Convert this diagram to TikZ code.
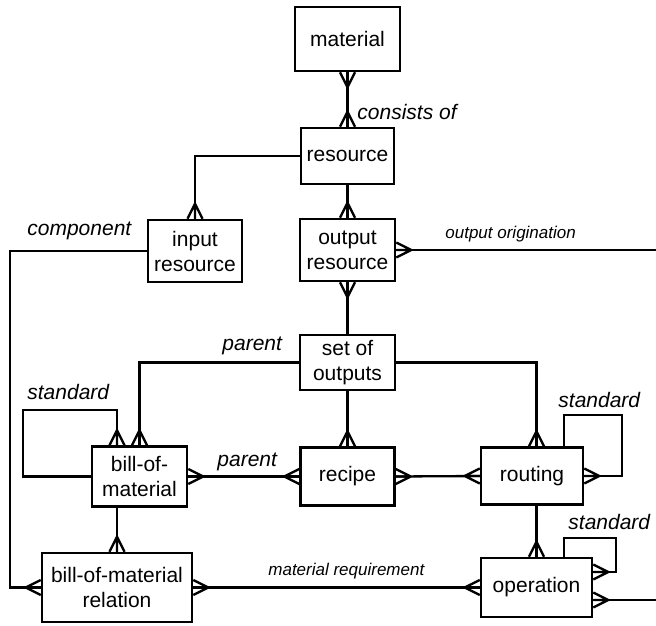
\documentclass[tikz,border=0pt]{standalone}
\usepackage{fontspec}
\setmainfont{Liberation Sans}
\begin{document}
\begin{tikzpicture}[x=0.5pt,y=-0.5pt,
  entity/.style={draw, line width=1.25pt, align=center, inner sep=0pt, font=\fontsize{10.5}{12.5}\selectfont},
  dims/.style 2 args={minimum width=#1, minimum height=#2},
  role/.style={inner sep=0pt, anchor=west, font=\fontsize{10.5}{12.5}\selectfont\itshape},
  small role/.style={role, font=\fontsize{8.5}{10}\selectfont\itshape},
  rel/.style={line width=1.15pt},
  crowfoot/.pic={\draw [line width=1.15pt] (-7.5,0) -- (0,15) (0,0) -- (0,15) (7.5,0) -- (0,15);}
]
\useasboundingbox (0,0) rectangle (656,625);

% Entities
\node [entity, dims={52.5pt}{32pt}] (material) at (347.5,39) {material};
\node [entity, dims={46.5pt}{28pt}] (resource) at (347.5,156) {resource};
\node [entity, dims={47pt}{31pt}] (input) at (195,251) {input\\resource};
\node [entity, dims={47.5pt}{31pt}] (output) at (347.5,250) {output\\resource};
\node [entity, dims={47.5pt}{27.5pt}] (outputs) at (347.5,362.5) {set of\\outputs};
\node [entity, dims={47.5pt}{30pt}] (bom) at (139.5,476.5) {bill-of-\\material};
\node [entity, dims={47pt}{29pt}] (recipe) at (347.5,476.5) {recipe};
\node [entity, dims={51pt}{28.5pt}] (routing) at (532,476) {routing};
\node [entity, dims={75pt}{34.5pt}] (bomr) at (117,587.5) {bill-of-material\\relation};
\node [entity, dims={55.5pt}{29.5pt}] (operation) at (536.5,587.5) {operation};

% Free ends at the right border and the corners of the loops
\coordinate (origination end) at (656,250);
\coordinate (operation end) at (656,600);
\coordinate (component bend) at (10,400);
\coordinate (bom loop) at (23,410);
\coordinate (routing loop) at (622,415);
\coordinate (operation loop) at (616,538);

% material consists of resources
\draw [rel] (material.south) -- (resource.north);
\pic at (material.south) {crowfoot};
\pic [rotate=180] at (resource.north) {crowfoot};
\node [role] (consists) at (357,112) {consists of};

% input and output resources
\draw [rel] (resource.west) -| (input.north);
\pic [rotate=180] at (input.north) {crowfoot};
\draw [rel] (resource.south) -- (output.north);
\pic [rotate=180] at (output.north) {crowfoot};
\draw [rel] (output.south) -- (outputs.north);
\pic at (output.south) {crowfoot};
\draw [rel] (output.east) -- (origination end);
\pic [rotate=90] at (output.east) {crowfoot};
\node [small role] (origination) at (445,234) {output origination};

% component line down to the relation
\draw [rel] (input.west) -| (component bend) |- (bomr.west);
\pic [rotate=-90] at (bomr.west) {crowfoot};
\node [role] (component) at (27,231) {component};

% set of outputs as parent
\draw [rel] (outputs.west) -| (bom.north);
\pic [rotate=180] at (bom.north) {crowfoot};
\node [role] (parent top) at (222,346) {parent};
\draw [rel] (outputs.south) -- (recipe.north);
\pic [rotate=180] at (recipe.north) {crowfoot};
\draw [rel] (outputs.east) -| (operation.north |- routing.north);
\pic [rotate=180] at (operation.north |- routing.north) {crowfoot};

% bill-of-material
\draw [rel] (bomr.north |- bom.north) |- (bom loop) |- (bom.west);
\pic [rotate=180] at (bomr.north |- bom.north) {crowfoot};
\node [role] (bom standard) at (27,392) {standard};
\draw [rel] (bomr.north |- bom.south) -- (bomr.north);
\pic [rotate=180] at (bomr.north) {crowfoot};
\draw [rel] (bom.east) -- (recipe.west);
\pic [rotate=90] at (bom.east) {crowfoot};
\pic [rotate=-90] at (recipe.west) {crowfoot};
\node [role] (parent bom) at (217,462) {parent};

% recipe and routing
\draw [rel] (recipe.east) -- (routing.west);
\pic [rotate=90] at (recipe.east) {crowfoot};
\pic [rotate=-90] at (routing.west) {crowfoot};
\draw [rel] ([xshift=-10pt]routing.north east) |- (routing loop) |- (routing.east);
\pic [rotate=90] at (routing.east) {crowfoot};
\node [role] (routing standard) at (558,400) {standard};
\draw [rel] (operation.north |- routing.south) -- (operation.north);
\pic [rotate=180] at (operation.north) {crowfoot};

% operation
\draw [rel] ([xshift=-14.5pt]operation.north east) |- (operation loop) |- ([yshift=7.75pt]operation.east);
\pic [rotate=90] at ([yshift=7.75pt]operation.east) {crowfoot};
\node [role] (operation standard) at (568,522) {standard};
\draw [rel] ([yshift=-6.25pt]operation.east) -- (operation end);
\pic [rotate=90] at ([yshift=-6.25pt]operation.east) {crowfoot};

% material requirement
\draw [rel] (bomr.east) -- (operation.west);
\pic [rotate=90] at (bomr.east) {crowfoot};
\pic [rotate=-90] at (operation.west) {crowfoot};
\node [small role] (requirement) at (268,571) {material requirement};
\end{tikzpicture}
\end{document}
